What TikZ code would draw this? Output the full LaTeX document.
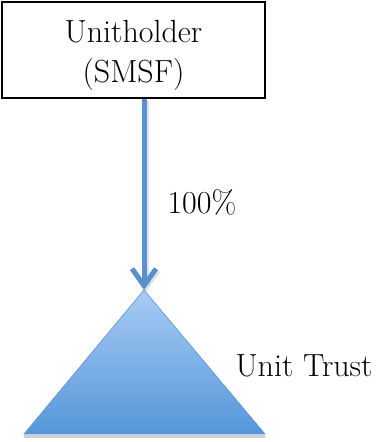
\documentclass[tikz,border=0pt]{standalone}
\usepackage{fontspec}
\usepackage{xcolor}
\usepackage{tikz}
\usetikzlibrary{arrows.meta,positioning,shadows}
\definecolor{arrowblue}{HTML}{5890D0}
\definecolor{trusttop}{HTML}{A9CBF4}
\definecolor{trustbot}{HTML}{5597DA}
\definecolor{trustedge}{HTML}{5A92D2}

\begin{document}
\begin{tikzpicture}[x=1pt, y=-1pt, font=\fontsize{32}{40}\selectfont,
		holderbox/.style={draw=black, line width=1.6pt, fill=white, minimum width=263, minimum height=96, align=center, inner sep=0pt},
		ownarrow/.style={arrowblue, line width=5pt, -{Straight Barb[length=17pt, width=24pt, line join=miter]}}]
		\useasboundingbox (0,0) rectangle (377,442);
		
		% Unitholder
		\node[holderbox] (holder) at (133.5,50) {\rule{0pt}{33pt}Unitholder\\(SMSF)};
		
		% Unit trust
		\coordinate (apex) at (144,290);
		\coordinate (baseL) at (24,434);
		\coordinate (baseR) at (265,434);
		\fill[black, opacity=0.18] ([yshift=-4]baseL) -- ([yshift=-4]baseR) -- ([yshift=-1]baseR) -- ([yshift=-1]baseL) -- cycle;
		\shade[top color=trusttop, bottom color=trustbot, draw=trustedge, line width=0.6pt]
			(apex) -- (baseR) -- (baseL) -- cycle;
		\node[anchor=base east] (trust) at (376,376) {Unit Trust};
		
		% Ownership
		\draw[ownarrow, black, opacity=0.12, transform canvas={xshift=2pt, yshift=-2pt}] (holder.south -| apex) -- (apex);
		\draw[ownarrow] (holder.south -| apex) -- (apex);
		\node[anchor=base west] (share) at (164,213) {100\%};
	\end{tikzpicture}
\end{document}
